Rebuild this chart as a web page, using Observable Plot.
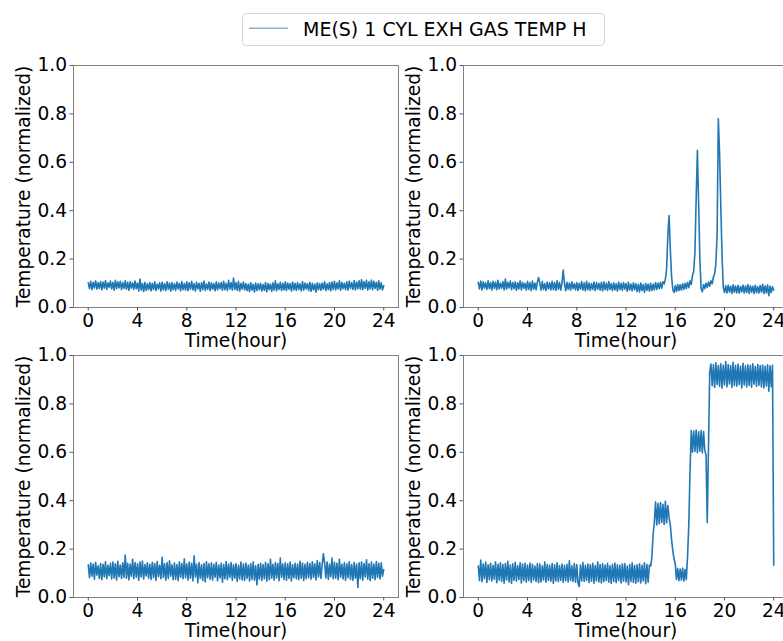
<!DOCTYPE html>
<html><head><meta charset="utf-8">
<script src="https://cdn.jsdelivr.net/npm/d3@7"></script>
<script src="https://cdn.jsdelivr.net/npm/@observablehq/plot@0.6"></script>
<style>
html,body{margin:0;padding:0;background:#fff;overflow:hidden;}
#fig{position:relative;width:783px;height:641px;overflow:hidden;font-family:"DejaVu Sans",sans-serif;background:#fff;}
.panel{position:absolute;}
#legend{position:absolute;left:242px;top:13px;width:363px;height:33px;box-sizing:border-box;border:1px solid #d6d6d6;border-radius:4px;background:#fff;}
#legend svg{position:absolute;left:0;top:0;}
#legend span{position:absolute;left:60px;top:4px;font-size:19px;line-height:22px;color:#000;white-space:nowrap;}
</style></head><body><div id="fig"></div>
<script>
const seriesName = "ME(S) 1 CYL EXH GAS TEMP H";
const xLabel = "Time(hour)";
const yLabel = "Temperature (normalized)";
const xTicks = [0, 4, 8, 12, 16, 20, 24];
const yTicks = [0, 0.2, 0.4, 0.6, 0.8, 1.0];
const stepHours = 0.1; // sampling interval of the value lists below

// top-left panel
const panelA = [
.102,.078,.108,.074,.104,.081,.110,.076,.103,.079,
.107,.073,.105,.080,.111,.075,.102,.083,.109,.077,
.104,.072,.112,.078,.106,.081,.108,.074,.103,.079,
.110,.076,.104,.071,.107,.080,.102,.075,.109,.078,
.101,.068,.118,.072,.099,.066,.104,.071,.098,.074,
.103,.069,.100,.075,.106,.070,.097,.077,.102,.068,
.104,.073,.099,.070,.106,.076,.101,.068,.103,.074,
.098,.071,.105,.077,.100,.069,.107,.074,.099,.072,
.106,.070,.102,.076,.108,.073,.099,.068,.104,.077,
.100,.067,.103,.074,.109,.071,.097,.075,.105,.070,
.102,.076,.099,.069,.106,.073,.101,.078,.104,.071,
.108,.074,.100,.070,.112,.077,.103,.072,.122,.075,
.103,.071,.107,.068,.100,.076,.105,.073,.099,.070,
.097,.066,.102,.072,.096,.064,.101,.070,.098,.073,
.100,.068,.095,.071,.103,.065,.099,.074,.097,.067,
.102,.072,.110,.069,.098,.075,.104,.070,.100,.073,
.106,.070,.101,.076,.099,.068,.105,.073,.100,.071,
.103,.075,.098,.069,.107,.072,.101,.077,.099,.070,
.104,.067,.100,.073,.097,.063,.102,.074,.099,.071,
.101,.076,.106,.070,.098,.074,.103,.069,.105,.075,
.108,.073,.102,.077,.110,.071,.104,.078,.100,.074,
.106,.072,.109,.079,.103,.075,.111,.073,.105,.078,
.110,.076,.115,.074,.107,.080,.112,.072,.106,.077,
.113,.074,.108,.079,.104,.071,.110,.076,.102,.073,
.090];

// top-right panel
const panelB = [
.104,.077,.109,.073,.106,.080,.102,.075,.110,.078,
.103,.072,.108,.079,.105,.074,.112,.077,.101,.080,
.107,.073,.118,.076,.104,.081,.109,.074,.103,.078,
.106,.071,.102,.077,.110,.073,.104,.079,.100,.072,
.108,.075,.103,.070,.109,.076,.101,.073,.106,.124,
.101,.072,.107,.075,.099,.070,.105,.077,.102,.073,
.108,.074,.103,.071,.110,.076,.104,.072,.101,.155,
.099,.069,.104,.075,.101,.072,.106,.078,.098,.073,
.103,.070,.100,.076,.107,.072,.102,.069,.108,.074,
.101,.071,.099,.075,.105,.070,.103,.076,.100,.072,
.104,.069,.106,.074,.101,.071,.107,.075,.099,.070,
.102,.073,.098,.068,.105,.074,.100,.071,.103,.076,
.099,.067,.104,.072,.097,.069,.102,.074,.098,.066,
.096,.064,.101,.070,.095,.062,.099,.071,.097,.068,
.100,.070,.097,.073,.103,.075,.101,.078,.104,.080,
.106,.098,.118,.160,.300,.380,.240,.130,.075,.062,
.090,.066,.095,.070,.094,.072,.098,.075,.100,.078,
.104,.082,.110,.095,.132,.150,.230,.450,.650,.430,
.200,.080,.065,.095,.078,.100,.083,.105,.088,.110,
.098,.126,.140,.180,.300,.780,.640,.420,.220,.085,
.062,.090,.060,.092,.064,.088,.058,.094,.063,.089,
.061,.091,.059,.087,.065,.093,.060,.089,.062,.095,
.058,.090,.063,.088,.057,.092,.061,.086,.060,.091,
.064,.096,.057,.089,.060,.093,.049,.088,.062,.086,
.072];

// bottom-left panel
const panelC = [
.135,.082,.142,.088,.138,.076,.145,.092,.131,.079,
.140,.074,.137,.085,.148,.078,.133,.090,.141,.077,
.146,.081,.139,.072,.150,.086,.134,.079,.143,.083,
.175,.080,.141,.073,.138,.087,.158,.078,.144,.084,
.139,.071,.147,.085,.151,.077,.136,.089,.143,.080,
.137,.075,.145,.082,.140,.070,.149,.086,.133,.078,
.166,.083,.139,.072,.144,.079,.152,.088,.135,.074,
.142,.076,.136,.069,.147,.084,.140,.078,.160,.082,
.138,.073,.146,.080,.141,.068,.172,.085,.137,.061,
.144,.079,.135,.070,.140,.064,.148,.082,.139,.076,
.143,.072,.137,.084,.145,.069,.134,.081,.141,.063,
.136,.078,.149,.074,.138,.083,.144,.071,.135,.080,
.140,.066,.133,.077,.146,.073,.138,.070,.142,.079,
.134,.068,.139,.075,.147,.072,.131,.052,.137,.076,
.141,.070,.136,.078,.145,.067,.139,.074,.158,.080,
.137,.072,.144,.081,.140,.069,.163,.083,.138,.075,
.143,.071,.139,.079,.146,.068,.135,.082,.141,.077,
.138,.074,.150,.080,.142,.070,.137,.078,.145,.082,
.140,.076,.148,.083,.139,.073,.153,.085,.144,.079,
.136,.181,.142,.081,.147,.075,.138,.086,.163,.078,
.145,.080,.141,.074,.158,.084,.137,.077,.143,.070,
.139,.082,.148,.075,.136,.071,.144,.080,.138,.042,
.143,.078,.147,.072,.140,.085,.156,.076,.139,.069,
.146,.080,.138,.074,.149,.083,.141,.077,.143,.088,
.115];

// bottom-right panel
const panelD = [
.130,.070,.155,.065,.138,.078,.146,.062,.135,.074,
.141,.068,.133,.076,.147,.061,.137,.072,.143,.066,
.136,.059,.140,.073,.150,.064,.134,.058,.139,.071,
.145,.067,.132,.075,.143,.060,.138,.069,.141,.063,
.134,.070,.142,.062,.137,.073,.130,.066,.140,.061,
.138,.064,.131,.072,.146,.063,.136,.070,.133,.067,
.140,.058,.135,.068,.143,.065,.132,.071,.138,.062,
.133,.069,.137,.064,.152,.070,.131,.066,.140,.063,
.136,.060,.045,.134,.068,.144,.066,.133,.070,.138,
.062,.135,.067,.141,.059,.132,.068,.146,.064,.136,
.060,.139,.065,.134,.070,.141,.063,.131,.058,.137,
.066,.142,.061,.135,.069,.133,.060,.138,.067,.140,
.064,.130,.053,.136,.066,.143,.062,.132,.059,.135,
.065,.139,.060,.133,.068,.143,.057,.136,.063,.134,
.130,.165,.260,.310,.395,.300,.388,.305,.392,.310,
.385,.302,.398,.308,.380,.330,.300,.240,.195,.160,
.140,.075,.120,.070,.118,.072,.122,.068,.116,.074,
.170,.300,.520,.690,.600,.688,.603,.692,.598,.685,
.605,.690,.598,.686,.607,.590,.310,.620,.930,.965,
.875,.962,.868,.970,.880,.958,.872,.966,.865,.960,
.878,.975,.870,.963,.882,.958,.868,.972,.876,.960,
.873,.965,.880,.955,.866,.968,.878,.957,.870,.962,
.876,.959,.869,.966,.881,.954,.872,.963,.877,.958,
.870,.961,.866,.955,.874,.962,.852,.957,.871,.960,
.133];

const lineColor = "#1f77b4";
const fig = document.getElementById("fig");

function rows(vals) {
  return vals.map((v, i) => ({t: Math.round(i * stepHours * 100) / 100, v}));
}

function panel(vals, left, top, width, marginRight, marginTop) {
  const chart = Plot.plot({
    width, height: marginTop + 242 + 48,
    marginLeft: 73, marginRight, marginTop, marginBottom: 48,
    x: {domain: [-1.2, 25.2]},
    y: {domain: [0, 1]},
    style: {background: "transparent", fontFamily: "DejaVu Sans", fontSize: "18.6px", color: "#000", overflow: "visible"},
    marks: [
      Plot.line(rows(vals), {x: "t", y: "v", stroke: lineColor, strokeWidth: 1.6}),
      Plot.frame({stroke: "#808080", strokeWidth: 1}),
      Plot.axisX({ticks: xTicks, tickSize: 3.5, tickPadding: 2.5, stroke: "#555",
        label: xLabel, labelAnchor: "center", labelOffset: 39, labelArrow: "none"}),
      Plot.axisY({ticks: yTicks, tickFormat: d3.format(".1f"), tickSize: 3.5, tickPadding: 3, stroke: "#555",
        label: yLabel, labelAnchor: "center", labelOffset: 57, labelArrow: "none"})
    ]
  });
  chart.classList.add("panel");
  chart.style.left = left + "px";
  chart.style.top = top + "px";
  fig.appendChild(chart);
}

panel(panelA, 0, 45, 400, 2, 20);
panel(panelB, 390, 45, 398, 0, 20);
panel(panelC, 0, 335, 400, 2, 20);
panel(panelD, 390, 335, 398, 0, 20);

// legend
const lg = document.createElement("div");
lg.id = "legend";
lg.innerHTML = `<svg width="60" height="31"><line x1="6" x2="45" y1="14.3" y2="14.3" stroke="${lineColor}" stroke-width="1.5" stroke-opacity="0.55"/></svg><span></span>`;
lg.querySelector("span").textContent = seriesName;
fig.appendChild(lg);
</script></body></html>
